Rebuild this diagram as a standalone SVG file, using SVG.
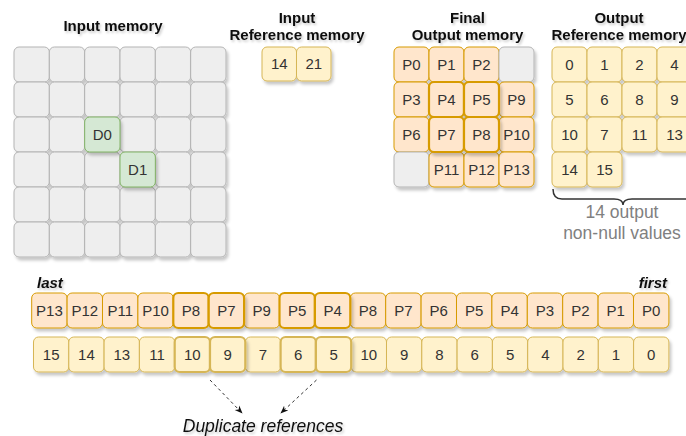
<svg xmlns="http://www.w3.org/2000/svg" width="686" height="436" viewBox="0 0 686 436">
<defs>
<filter id="sh" x="-20%" y="-20%" width="150%" height="150%"><feDropShadow dx="2" dy="3" stdDeviation="1.5" flood-color="#000" flood-opacity="0.22"/></filter>
<filter id="tsh" x="-10%" y="-30%" width="120%" height="170%"><feDropShadow dx="1.5" dy="2" stdDeviation="1" flood-color="#000" flood-opacity="0.2"/></filter>
<marker id="ah" viewBox="0 0 10 10" refX="9" refY="5" markerWidth="8" markerHeight="8" orient="auto"><path d="M0,1 L10,5 L0,9 L3,5 Z" fill="#111"/></marker>
</defs>
<style>
rect{filter:url(#sh)}
.g{fill:#eeeeee;stroke:#b4b4b4;stroke-width:1}
.d{fill:#d5e8d4;stroke:#82b366;stroke-width:1}
.p{fill:#ffe6cc;stroke:#d79b00;stroke-width:1}
.pt{fill:#ffe6cc;stroke:#d79b00;stroke-width:2.2}
.y{fill:#fff2cc;stroke:#d6b656;stroke-width:1}
.yt{fill:#fff2cc;stroke:#d6b656;stroke-width:2.2}
text{font-family:"Liberation Sans",Arial,sans-serif}
.c{font-size:15px;fill:#333;text-anchor:middle}
.t{font-size:15px;font-weight:bold;fill:#111;text-anchor:middle;filter:url(#tsh)}
.n{font-size:17.5px;fill:#808080;text-anchor:middle}
.lab{font-size:15px;font-weight:bold;font-style:italic;fill:#111;filter:url(#tsh)}
.dup{font-size:17.5px;font-style:italic;fill:#111;text-anchor:middle;filter:url(#tsh)}
</style>

<g id="titles">
<text class="t" x="113" y="31">Input memory</text>
<text class="t" x="297" y="23">Input</text>
<text class="t" x="297" y="40">Reference memory</text>
<text class="t" x="467.5" y="23">Final</text>
<text class="t" x="467.5" y="40">Output memory</text>
<text class="t" x="619" y="23">Output</text>
<text class="t" x="619" y="40">Reference memory</text>
</g>

<g id="input-memory">
<g id="im-r0">
<rect class="g" x="14" y="47" width="35.33" height="35" rx="5"/><rect class="g" x="49.33" y="47" width="35.33" height="35" rx="5"/><rect class="g" x="84.67" y="47" width="35.33" height="35" rx="5"/><rect class="g" x="120" y="47" width="35.33" height="35" rx="5"/><rect class="g" x="155.33" y="47" width="35.33" height="35" rx="5"/><rect class="g" x="190.67" y="47" width="35.33" height="35" rx="5"/>
</g>
<g id="im-r1">
<rect class="g" x="14" y="82" width="35.33" height="35" rx="5"/><rect class="g" x="49.33" y="82" width="35.33" height="35" rx="5"/><rect class="g" x="84.67" y="82" width="35.33" height="35" rx="5"/><rect class="g" x="120" y="82" width="35.33" height="35" rx="5"/><rect class="g" x="155.33" y="82" width="35.33" height="35" rx="5"/><rect class="g" x="190.67" y="82" width="35.33" height="35" rx="5"/>
</g>
<g id="im-r2">
<rect class="g" x="14" y="117" width="35.33" height="35" rx="5"/><rect class="g" x="49.33" y="117" width="35.33" height="35" rx="5"/><rect class="g" x="120" y="117" width="35.33" height="35" rx="5"/><rect class="g" x="155.33" y="117" width="35.33" height="35" rx="5"/><rect class="g" x="190.67" y="117" width="35.33" height="35" rx="5"/>
</g>
<g id="im-r3">
<rect class="g" x="14" y="152" width="35.33" height="35" rx="5"/><rect class="g" x="49.33" y="152" width="35.33" height="35" rx="5"/><rect class="g" x="84.67" y="152" width="35.33" height="35" rx="5"/><rect class="g" x="155.33" y="152" width="35.33" height="35" rx="5"/><rect class="g" x="190.67" y="152" width="35.33" height="35" rx="5"/>
</g>
<g id="im-r4">
<rect class="g" x="14" y="187" width="35.33" height="35" rx="5"/><rect class="g" x="49.33" y="187" width="35.33" height="35" rx="5"/><rect class="g" x="84.67" y="187" width="35.33" height="35" rx="5"/><rect class="g" x="120" y="187" width="35.33" height="35" rx="5"/><rect class="g" x="155.33" y="187" width="35.33" height="35" rx="5"/><rect class="g" x="190.67" y="187" width="35.33" height="35" rx="5"/>
</g>
<g id="im-r5">
<rect class="g" x="14" y="222" width="35.33" height="35" rx="5"/><rect class="g" x="49.33" y="222" width="35.33" height="35" rx="5"/><rect class="g" x="84.67" y="222" width="35.33" height="35" rx="5"/><rect class="g" x="120" y="222" width="35.33" height="35" rx="5"/><rect class="g" x="155.33" y="222" width="35.33" height="35" rx="5"/><rect class="g" x="190.67" y="222" width="35.33" height="35" rx="5"/>
</g>
<g id="D0"><rect class="d" x="84.67" y="117" width="35.33" height="35" rx="5"/><text class="c" x="102.33" y="139.5">D0</text></g>
<g id="D1"><rect class="d" x="120" y="152" width="35.33" height="35" rx="5"/><text class="c" x="137.67" y="174.5">D1</text></g>
</g>

<g id="input-ref">
<g id="ir-14"><rect class="y" x="262" y="47" width="34.5" height="34" rx="5"/><text class="c" x="279.25" y="69">14</text></g>
<g id="ir-21"><rect class="y" x="296.5" y="47" width="34.5" height="34" rx="5"/><text class="c" x="313.75" y="69">21</text></g>
</g>

<g id="final-output">
<g id="fo-P0"><rect class="p" x="394" y="47" width="35" height="35" rx="5"/><text class="c" x="411.5" y="69.5">P0</text></g>
<g id="fo-P1"><rect class="p" x="429" y="47" width="35" height="35" rx="5"/><text class="c" x="446.5" y="69.5">P1</text></g>
<g id="fo-P2"><rect class="p" x="464" y="47" width="35" height="35" rx="5"/><text class="c" x="481.5" y="69.5">P2</text></g>
<g id="fo-e0"><rect class="g" x="499" y="47" width="35" height="35" rx="5"/></g>
<g id="fo-P3"><rect class="p" x="394" y="82" width="35" height="35" rx="5"/><text class="c" x="411.5" y="104.5">P3</text></g>
<g id="fo-P9"><rect class="p" x="499" y="82" width="35" height="35" rx="5"/><text class="c" x="516.5" y="104.5">P9</text></g>
<g id="fo-P6"><rect class="p" x="394" y="117" width="35" height="35" rx="5"/><text class="c" x="411.5" y="139.5">P6</text></g>
<g id="fo-P10"><rect class="p" x="499" y="117" width="35" height="35" rx="5"/><text class="c" x="516.5" y="139.5">P10</text></g>
<g id="fo-e1"><rect class="g" x="394" y="152" width="35" height="35" rx="5"/></g>
<g id="fo-P11"><rect class="p" x="429" y="152" width="35" height="35" rx="5"/><text class="c" x="446.5" y="174.5">P11</text></g>
<g id="fo-P12"><rect class="p" x="464" y="152" width="35" height="35" rx="5"/><text class="c" x="481.5" y="174.5">P12</text></g>
<g id="fo-P13"><rect class="p" x="499" y="152" width="35" height="35" rx="5"/><text class="c" x="516.5" y="174.5">P13</text></g>
<g id="fo-P4"><rect class="pt" x="429" y="82" width="35" height="35" rx="5"/><text class="c" x="446.5" y="104.5">P4</text></g>
<g id="fo-P5"><rect class="pt" x="464" y="82" width="35" height="35" rx="5"/><text class="c" x="481.5" y="104.5">P5</text></g>
<g id="fo-P7"><rect class="pt" x="429" y="117" width="35" height="35" rx="5"/><text class="c" x="446.5" y="139.5">P7</text></g>
<g id="fo-P8"><rect class="pt" x="464" y="117" width="35" height="35" rx="5"/><text class="c" x="481.5" y="139.5">P8</text></g>
</g>

<g id="output-ref">
<g id="or-0"><rect class="y" x="552" y="47" width="35" height="35" rx="5"/><text class="c" x="569.5" y="69.5">0</text></g>
<g id="or-1"><rect class="y" x="587" y="47" width="35" height="35" rx="5"/><text class="c" x="604.5" y="69.5">1</text></g>
<g id="or-2"><rect class="y" x="622" y="47" width="35" height="35" rx="5"/><text class="c" x="639.5" y="69.5">2</text></g>
<g id="or-4"><rect class="y" x="657" y="47" width="35" height="35" rx="5"/><text class="c" x="674.5" y="69.5">4</text></g>
<g id="or-5"><rect class="y" x="552" y="82" width="35" height="35" rx="5"/><text class="c" x="569.5" y="104.5">5</text></g>
<g id="or-6"><rect class="y" x="587" y="82" width="35" height="35" rx="5"/><text class="c" x="604.5" y="104.5">6</text></g>
<g id="or-8"><rect class="y" x="622" y="82" width="35" height="35" rx="5"/><text class="c" x="639.5" y="104.5">8</text></g>
<g id="or-9"><rect class="y" x="657" y="82" width="35" height="35" rx="5"/><text class="c" x="674.5" y="104.5">9</text></g>
<g id="or-10"><rect class="y" x="552" y="117" width="35" height="35" rx="5"/><text class="c" x="569.5" y="139.5">10</text></g>
<g id="or-7"><rect class="y" x="587" y="117" width="35" height="35" rx="5"/><text class="c" x="604.5" y="139.5">7</text></g>
<g id="or-11"><rect class="y" x="622" y="117" width="35" height="35" rx="5"/><text class="c" x="639.5" y="139.5">11</text></g>
<g id="or-13"><rect class="y" x="657" y="117" width="35" height="35" rx="5"/><text class="c" x="674.5" y="139.5">13</text></g>
<g id="or-14"><rect class="y" x="552" y="152" width="35" height="35" rx="5"/><text class="c" x="569.5" y="174.5">14</text></g>
<g id="or-15"><rect class="y" x="587" y="152" width="35" height="35" rx="5"/><text class="c" x="604.5" y="174.5">15</text></g>
</g>

<g id="brace">
<path d="M553,189 Q553,199 562,199 L614,199 Q623,199 623,205 Q623,199 632,199 L700,199" fill="none" stroke="#333" stroke-width="1.5"/>
<text class="n" x="622" y="218">14 output</text>
<text class="n" x="622" y="239">non-null values</text>
</g>

<g id="labels">
<text class="lab" x="37" y="288">last</text>
<text class="lab" x="667" y="288" text-anchor="end">first</text>
</g>

<g id="pointer-row">
<g id="pr-0"><rect class="p" x="31.7" y="293" width="35.4" height="35" rx="5"/><text class="c" x="49.4" y="315.5">P13</text></g>
<g id="pr-1"><rect class="p" x="67.1" y="293" width="35.4" height="35" rx="5"/><text class="c" x="84.8" y="315.5">P12</text></g>
<g id="pr-2"><rect class="p" x="102.5" y="293" width="35.4" height="35" rx="5"/><text class="c" x="120.2" y="315.5">P11</text></g>
<g id="pr-3"><rect class="p" x="137.9" y="293" width="35.4" height="35" rx="5"/><text class="c" x="155.6" y="315.5">P10</text></g>
<g id="pr-6"><rect class="p" x="244.1" y="293" width="35.4" height="35" rx="5"/><text class="c" x="261.8" y="315.5">P9</text></g>
<g id="pr-9"><rect class="p" x="350.3" y="293" width="35.4" height="35" rx="5"/><text class="c" x="368" y="315.5">P8</text></g>
<g id="pr-10"><rect class="p" x="385.7" y="293" width="35.4" height="35" rx="5"/><text class="c" x="403.4" y="315.5">P7</text></g>
<g id="pr-11"><rect class="p" x="421.1" y="293" width="35.4" height="35" rx="5"/><text class="c" x="438.8" y="315.5">P6</text></g>
<g id="pr-12"><rect class="p" x="456.5" y="293" width="35.4" height="35" rx="5"/><text class="c" x="474.2" y="315.5">P5</text></g>
<g id="pr-13"><rect class="p" x="491.9" y="293" width="35.4" height="35" rx="5"/><text class="c" x="509.6" y="315.5">P4</text></g>
<g id="pr-14"><rect class="p" x="527.3" y="293" width="35.4" height="35" rx="5"/><text class="c" x="545" y="315.5">P3</text></g>
<g id="pr-15"><rect class="p" x="562.7" y="293" width="35.4" height="35" rx="5"/><text class="c" x="580.4" y="315.5">P2</text></g>
<g id="pr-16"><rect class="p" x="598.1" y="293" width="35.4" height="35" rx="5"/><text class="c" x="615.8" y="315.5">P1</text></g>
<g id="pr-17"><rect class="p" x="633.5" y="293" width="35.4" height="35" rx="5"/><text class="c" x="651.2" y="315.5">P0</text></g>
<g id="pr-4"><rect class="pt" x="173.3" y="293" width="35.4" height="35" rx="5"/><text class="c" x="191" y="315.5">P8</text></g>
<g id="pr-5"><rect class="pt" x="208.7" y="293" width="35.4" height="35" rx="5"/><text class="c" x="226.4" y="315.5">P7</text></g>
<g id="pr-7"><rect class="pt" x="279.5" y="293" width="35.4" height="35" rx="5"/><text class="c" x="297.2" y="315.5">P5</text></g>
<g id="pr-8"><rect class="pt" x="314.9" y="293" width="35.4" height="35" rx="5"/><text class="c" x="332.6" y="315.5">P4</text></g>
</g>

<g id="ref-row">
<g id="rr-0"><rect class="y" x="33.5" y="337" width="35.3" height="35" rx="5"/><text class="c" x="51.15" y="359.5">15</text></g>
<g id="rr-1"><rect class="y" x="68.8" y="337" width="35.3" height="35" rx="5"/><text class="c" x="86.45" y="359.5">14</text></g>
<g id="rr-2"><rect class="y" x="104.1" y="337" width="35.3" height="35" rx="5"/><text class="c" x="121.75" y="359.5">13</text></g>
<g id="rr-3"><rect class="y" x="139.4" y="337" width="35.3" height="35" rx="5"/><text class="c" x="157.05" y="359.5">11</text></g>
<g id="rr-6"><rect class="y" x="245.3" y="337" width="35.3" height="35" rx="5"/><text class="c" x="262.95" y="359.5">7</text></g>
<g id="rr-9"><rect class="y" x="351.2" y="337" width="35.3" height="35" rx="5"/><text class="c" x="368.85" y="359.5">10</text></g>
<g id="rr-10"><rect class="y" x="386.5" y="337" width="35.3" height="35" rx="5"/><text class="c" x="404.15" y="359.5">9</text></g>
<g id="rr-11"><rect class="y" x="421.8" y="337" width="35.3" height="35" rx="5"/><text class="c" x="439.45" y="359.5">8</text></g>
<g id="rr-12"><rect class="y" x="457.1" y="337" width="35.3" height="35" rx="5"/><text class="c" x="474.75" y="359.5">6</text></g>
<g id="rr-13"><rect class="y" x="492.4" y="337" width="35.3" height="35" rx="5"/><text class="c" x="510.05" y="359.5">5</text></g>
<g id="rr-14"><rect class="y" x="527.7" y="337" width="35.3" height="35" rx="5"/><text class="c" x="545.35" y="359.5">4</text></g>
<g id="rr-15"><rect class="y" x="563" y="337" width="35.3" height="35" rx="5"/><text class="c" x="580.65" y="359.5">2</text></g>
<g id="rr-16"><rect class="y" x="598.3" y="337" width="35.3" height="35" rx="5"/><text class="c" x="615.95" y="359.5">1</text></g>
<g id="rr-17"><rect class="y" x="633.6" y="337" width="35.3" height="35" rx="5"/><text class="c" x="651.25" y="359.5">0</text></g>
<g id="rr-4"><rect class="yt" x="174.7" y="337" width="35.3" height="35" rx="5"/><text class="c" x="192.35" y="359.5">10</text></g>
<g id="rr-5"><rect class="yt" x="210" y="337" width="35.3" height="35" rx="5"/><text class="c" x="227.65" y="359.5">9</text></g>
<g id="rr-7"><rect class="yt" x="280.6" y="337" width="35.3" height="35" rx="5"/><text class="c" x="298.25" y="359.5">6</text></g>
<g id="rr-8"><rect class="yt" x="315.9" y="337" width="35.3" height="35" rx="5"/><text class="c" x="333.55" y="359.5">5</text></g>
</g>

<g id="connectors" fill="none" stroke="#333" stroke-width="1" stroke-dasharray="3,3">
<path d="M210,380 L242,413" marker-end="url(#ah)"/>
<path d="M316.5,380 L281,413" marker-end="url(#ah)"/>
</g>

<g id="dup-label">
<text class="dup" x="263" y="432">Duplicate references</text>
</g>
</svg>
